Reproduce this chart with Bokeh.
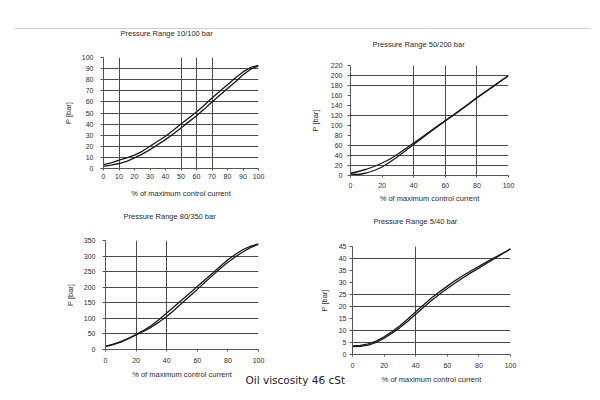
from bokeh.plotting import figure
from bokeh.models import GridBox, FixedTicker, Range1d, Label, BoxAnnotation
from bokeh.embed import file_html
from bokeh.resources import INLINE

# ---------------- data ----------------
x_pct = [0, 5, 10, 15, 20, 25, 30, 35, 40, 45, 50, 55, 60, 65, 70, 75, 80, 85, 90, 95, 100]

# Pressure Range 10/100 bar
p10_up = [3.5, 5, 7.5, 9.5, 12, 15.5, 20, 24.5, 29, 34.5, 40, 45.5, 51, 57, 63.5, 69.5, 75.5, 81.5, 87, 91, 93]
p10_lo = [2, 3, 4.5, 6.5, 9.5, 13, 17, 21.5, 26, 31, 36.5, 42, 47.5, 53.5, 60, 66, 72, 78, 84.5, 89.5, 92.5]

# Pressure Range 50/200 bar
p50_up = [4.5, 8, 12.5, 18, 25, 33, 43, 54, 65, 76, 87.5, 99, 110, 121, 132.5, 144, 156, 167, 178, 189, 200]
p50_lo = [3, 2, 5, 10, 17, 27, 38, 50, 62, 74, 86, 97.5, 109, 120, 131.5, 143, 155, 166, 177, 188.5, 199.5]

# Pressure Range 80/350 bar
p80_up = [10, 17, 25, 36, 48, 62, 77, 96, 117, 138, 160, 181, 202, 224, 245, 267, 288, 306, 321, 332, 339]
p80_lo = [9, 15.5, 23.5, 35, 47, 59, 72, 88, 106, 127, 149, 171, 193, 216, 238, 260, 280, 298, 314, 328, 338]

# Pressure Range 5/40 bar
p5_up = [3.6, 3.8, 4.4, 5.6, 7.4, 9.6, 12, 14.8, 17.8, 20.7, 23.5, 26.1, 28.5, 30.8, 32.9, 34.9, 36.7, 38.6, 40.4, 42.2, 44]
p5_lo = [3.3, 3.4, 3.9, 5.0, 6.8, 8.9, 11.2, 13.9, 16.8, 19.7, 22.5, 25.1, 27.5, 29.8, 32, 34.1, 36, 38, 40, 42, 44]

# tick labels
x_ticks_10 = [0, 10, 20, 30, 40, 50, 60, 70, 80, 90, 100]
x_ticks_20 = [0, 20, 40, 60, 80, 100]
y_ticks_10_100 = [0, 10, 20, 30, 40, 50, 60, 70, 80, 90, 100]
y_ticks_50_200 = [0, 20, 40, 60, 80, 100, 120, 140, 160, 180, 200, 220]
y_ticks_80_350 = [0, 50, 100, 150, 200, 250, 300, 350]
y_ticks_5_40 = [0, 5, 10, 15, 20, 25, 30, 35, 40, 45]

# grid lines drawn in the original
grid_x_10_100 = [10, 50, 60, 70]
grid_y_10_100 = [10, 20, 30, 40, 50, 60, 70, 80, 90, 100]
grid_x_50_200 = [40, 60, 80]
grid_y_50_200 = [20, 40, 60, 120, 180, 200]
grid_x_80_350 = [20, 40]
grid_y_80_350 = [50, 100, 150, 200, 250, 300]
grid_x_5_40 = [40]
grid_y_5_40 = [5, 10, 20, 25, 40]

titles = ["Pressure Range 10/100 bar", "Pressure Range  50/200 bar",
          "Pressure Range  80/350 bar", "Pressure Range    5/40  bar"]
x_label = "% of maximum control current"
y_label = "P [bar]"
caption = "Oil  viscosity  46  cSt"

FONT = "Liberation Sans"
TXT = "#2a2a2a"


def panel(up, lo, y_end, xt, yt, gx, gy, w, h, bl, br, bt, bb,
          x_std, x_lstd, y_std, y_lstd):
    p = figure(width=w, height=h, x_range=Range1d(0, 100), y_range=Range1d(0, y_end),
               min_border_left=bl, min_border_right=br, min_border_top=bt, min_border_bottom=bb,
               toolbar_location=None, output_backend="svg", outline_line_color=None,
               background_fill_color="white", border_fill_color="white")
    p.frame_align = False

    p.xaxis.ticker = FixedTicker(ticks=xt)
    p.yaxis.ticker = FixedTicker(ticks=yt)
    p.xgrid.ticker = FixedTicker(ticks=gx)
    p.ygrid.ticker = FixedTicker(ticks=gy)
    p.grid.grid_line_color = "#4a4a4a"
    p.grid.grid_line_width = 1

    for ax in (p.xaxis, p.yaxis):
        ax.axis_line_color = "#555555"
        ax.major_tick_line_color = "#555555"
        ax.minor_tick_line_color = None
        ax.major_tick_in = 0
        ax.major_label_text_font = FONT
        ax.major_label_text_font_size = "7px"
        ax.major_label_text_color = TXT
        ax.axis_label_text_font = FONT
        ax.axis_label_text_font_size = "7.5px"
        ax.axis_label_text_font_style = "normal"
        ax.axis_label_text_color = TXT
    p.xaxis.major_tick_out = 2
    p.yaxis.major_tick_out = 3
    p.xaxis.axis_label = x_label
    p.yaxis.axis_label = y_label
    p.xaxis.major_label_standoff = x_std
    p.xaxis.axis_label_standoff = x_lstd
    p.yaxis.major_label_standoff = y_std
    p.yaxis.axis_label_standoff = y_lstd

    p.line(x_pct, up, line_color="#1a1a1a", line_width=1.3)
    p.line(x_pct, lo, line_color="#1a1a1a", line_width=1.3)
    return p


f1 = panel(p10_up, p10_lo, 100, x_ticks_10, y_ticks_10_100, grid_x_10_100, grid_y_10_100,
           300, 205, 103, 42, 57, 37, 3, 7, 7, 6)
f2 = panel(p50_up, p50_lo, 220, x_ticks_20, y_ticks_50_200, grid_x_50_200, grid_y_50_200,
           300, 205, 50, 92, 65, 26, 5, 3, 5, 8)
f3 = panel(p80_up, p80_lo, 350, x_ticks_20, y_ticks_80_350, grid_x_80_350, grid_y_80_350,
           300, 195, 105, 42, 35, 51, 6, 4, 7, 6)
f4 = panel(p5_up, p5_lo, 45, x_ticks_20, y_ticks_5_40, grid_x_5_40, grid_y_5_40,
           300, 195, 52, 90, 41, 46, 6, 4, 3, 7)

# transparent overlay (page pixel coordinates) for the rule, panel titles and caption
ov = figure(width=600, height=400, x_range=Range1d(0, 600), y_range=Range1d(400, 0),
            x_axis_type=None, y_axis_type=None, min_border=0, toolbar_location=None,
            output_backend="svg", background_fill_color=None, border_fill_color=None,
            outline_line_color=None)
ov.frame_align = False
ov.add_layout(BoxAnnotation(left=13, right=590, top=27.5, bottom=28.5,
                            fill_color="#d0d0d0", fill_alpha=1, line_color=None))
title_pos = [(120, 33), (372, 44), (123, 216), (373, 221)]
for t, (tx, ty) in zip(titles, title_pos):
    ov.add_layout(Label(x=tx, y=ty, text=t, text_font=FONT, text_font_size="7.5px",
                        text_color=TXT, text_baseline="middle"))
ov.add_layout(Label(x=245, y=379, text=caption, text_font="DejaVu Sans",
                    text_font_size="10.5px", text_color="#222222", text_baseline="middle"))

grid = GridBox(children=[(f1, 0, 0), (f2, 0, 1), (f3, 1, 0), (f4, 1, 1), (ov, 0, 0, 2, 2)])

open("out.html", "w").write(file_html(grid, INLINE))
